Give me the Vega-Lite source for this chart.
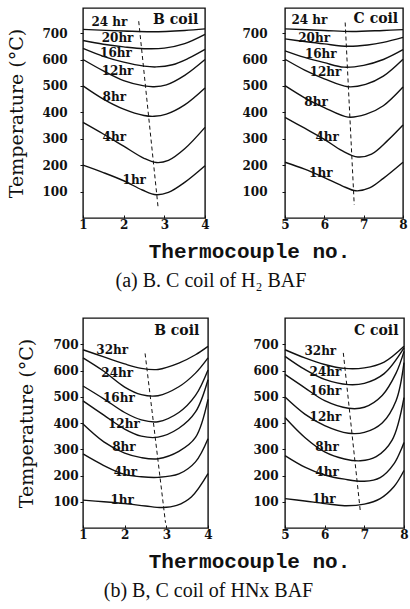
{
  "$schema": "https://vega.github.io/schema/vega-lite/v6.json",
  "padding": {"left": 7, "top": 7, "right": 2, "bottom": 4},
  "background": "white",
  "config": {
    "view": {"stroke": "#111", "strokeWidth": 1.4},
    "axis": {"grid": false, "domain": false, "labelFont": "DejaVu Serif", "labelFontWeight": "bold", "labelFontSize": 12, "labelColor": "#111", "tickColor": "#111", "tickWidth": 1, "labelFlush": false, "titleColor": "#111"},
    "axisY": {"tickSize": 3, "titleFont": "DejaVu Serif", "titleFontSize": 19, "titleFontWeight": "normal"},
    "axisX": {"tickSize": -3, "labelPadding": 4, "titleFont": "Liberation Mono", "titleFontSize": 21, "titleFontWeight": "bold"},
    "title": {"font": "Liberation Serif", "fontSize": 20, "fontWeight": "normal", "color": "#111"}
  },
  "datasets": {
    "curves": [
      {"p":"A","hr":"1hr","x":1,"t":200},{"p":"A","hr":"1hr","x":1.5,"t":172},{"p":"A","hr":"1hr","x":2,"t":141},{"p":"A","hr":"1hr","x":2.46,"t":106},{"p":"A","hr":"1hr","x":2.8,"t":88},{"p":"A","hr":"1hr","x":3.1,"t":97},{"p":"A","hr":"1hr","x":3.5,"t":135},{"p":"A","hr":"1hr","x":4,"t":198},
      {"p":"A","hr":"4hr","x":1,"t":362},{"p":"A","hr":"4hr","x":1.5,"t":318},{"p":"A","hr":"4hr","x":2,"t":272},{"p":"A","hr":"4hr","x":2.5,"t":226},{"p":"A","hr":"4hr","x":2.8,"t":210},{"p":"A","hr":"4hr","x":3.1,"t":218},{"p":"A","hr":"4hr","x":3.5,"t":262},{"p":"A","hr":"4hr","x":4,"t":343},
      {"p":"A","hr":"8hr","x":1,"t":500},{"p":"A","hr":"8hr","x":1.5,"t":450},{"p":"A","hr":"8hr","x":2,"t":412},{"p":"A","hr":"8hr","x":2.5,"t":388},{"p":"A","hr":"8hr","x":2.75,"t":385},{"p":"A","hr":"8hr","x":3.05,"t":393},{"p":"A","hr":"8hr","x":3.5,"t":428},{"p":"A","hr":"8hr","x":4,"t":492},
      {"p":"A","hr":"12hr","x":1,"t":600},{"p":"A","hr":"12hr","x":1.5,"t":557},{"p":"A","hr":"12hr","x":2,"t":520},{"p":"A","hr":"12hr","x":2.5,"t":500},{"p":"A","hr":"12hr","x":2.75,"t":497},{"p":"A","hr":"12hr","x":3.05,"t":504},{"p":"A","hr":"12hr","x":3.5,"t":540},{"p":"A","hr":"12hr","x":4,"t":600},
      {"p":"A","hr":"16hr","x":1,"t":642},{"p":"A","hr":"16hr","x":1.5,"t":612},{"p":"A","hr":"16hr","x":2,"t":590},{"p":"A","hr":"16hr","x":2.5,"t":575},{"p":"A","hr":"16hr","x":2.8,"t":572},{"p":"A","hr":"16hr","x":3.2,"t":580},{"p":"A","hr":"16hr","x":3.6,"t":605},{"p":"A","hr":"16hr","x":4,"t":638},
      {"p":"A","hr":"20hr","x":1,"t":672},{"p":"A","hr":"20hr","x":1.5,"t":658},{"p":"A","hr":"20hr","x":2,"t":648},{"p":"A","hr":"20hr","x":2.5,"t":641},{"p":"A","hr":"20hr","x":3,"t":643},{"p":"A","hr":"20hr","x":3.5,"t":660},{"p":"A","hr":"20hr","x":4,"t":695},
      {"p":"A","hr":"24hr","x":1,"t":714},{"p":"A","hr":"24hr","x":2,"t":708},{"p":"A","hr":"24hr","x":2.7,"t":705},{"p":"A","hr":"24hr","x":3.5,"t":710},{"p":"A","hr":"24hr","x":4,"t":716},

      {"p":"B","hr":"1hr","x":5,"t":211},{"p":"B","hr":"1hr","x":5.5,"t":185},{"p":"B","hr":"1hr","x":6,"t":153},{"p":"B","hr":"1hr","x":6.45,"t":122},{"p":"B","hr":"1hr","x":6.8,"t":103},{"p":"B","hr":"1hr","x":7.15,"t":114},{"p":"B","hr":"1hr","x":7.5,"t":150},{"p":"B","hr":"1hr","x":8,"t":211},
      {"p":"B","hr":"4hr","x":5,"t":381},{"p":"B","hr":"4hr","x":5.5,"t":340},{"p":"B","hr":"4hr","x":6,"t":298},{"p":"B","hr":"4hr","x":6.45,"t":255},{"p":"B","hr":"4hr","x":6.85,"t":231},{"p":"B","hr":"4hr","x":7.2,"t":242},{"p":"B","hr":"4hr","x":7.6,"t":292},{"p":"B","hr":"4hr","x":8,"t":352},
      {"p":"B","hr":"8hr","x":5,"t":501},{"p":"B","hr":"8hr","x":5.5,"t":455},{"p":"B","hr":"8hr","x":6,"t":418},{"p":"B","hr":"8hr","x":6.6,"t":382},{"p":"B","hr":"8hr","x":7.05,"t":392},{"p":"B","hr":"8hr","x":7.5,"t":425},{"p":"B","hr":"8hr","x":8,"t":496},
      {"p":"B","hr":"12hr","x":5,"t":601},{"p":"B","hr":"12hr","x":5.5,"t":560},{"p":"B","hr":"12hr","x":6,"t":527},{"p":"B","hr":"12hr","x":6.6,"t":497},{"p":"B","hr":"12hr","x":7.05,"t":506},{"p":"B","hr":"12hr","x":7.5,"t":537},{"p":"B","hr":"12hr","x":8,"t":601},
      {"p":"B","hr":"16hr","x":5,"t":633},{"p":"B","hr":"16hr","x":5.5,"t":608},{"p":"B","hr":"16hr","x":6,"t":588},{"p":"B","hr":"16hr","x":6.5,"t":571},{"p":"B","hr":"16hr","x":7,"t":578},{"p":"B","hr":"16hr","x":7.5,"t":600},{"p":"B","hr":"16hr","x":8,"t":637},
      {"p":"B","hr":"20hr","x":5,"t":678},{"p":"B","hr":"20hr","x":5.5,"t":668},{"p":"B","hr":"20hr","x":6,"t":659},{"p":"B","hr":"20hr","x":6.6,"t":650},{"p":"B","hr":"20hr","x":7.1,"t":655},{"p":"B","hr":"20hr","x":7.5,"t":665},{"p":"B","hr":"20hr","x":8,"t":684},
      {"p":"B","hr":"24hr","x":5,"t":716},{"p":"B","hr":"24hr","x":6,"t":710},{"p":"B","hr":"24hr","x":6.7,"t":706},{"p":"B","hr":"24hr","x":7.5,"t":710},{"p":"B","hr":"24hr","x":8,"t":713},

      {"p":"C","hr":"1hr","x":1,"t":106},{"p":"C","hr":"1hr","x":1.5,"t":100},{"p":"C","hr":"1hr","x":2,"t":93},{"p":"C","hr":"1hr","x":2.5,"t":84},{"p":"C","hr":"1hr","x":2.9,"t":78},{"p":"C","hr":"1hr","x":3.25,"t":86},{"p":"C","hr":"1hr","x":3.6,"t":118},{"p":"C","hr":"1hr","x":4,"t":207},
      {"p":"C","hr":"4hr","x":1,"t":282},{"p":"C","hr":"4hr","x":1.5,"t":238},{"p":"C","hr":"4hr","x":2,"t":204},{"p":"C","hr":"4hr","x":2.4,"t":195},{"p":"C","hr":"4hr","x":2.8,"t":193},{"p":"C","hr":"4hr","x":3.3,"t":206},{"p":"C","hr":"4hr","x":3.7,"t":252},{"p":"C","hr":"4hr","x":4,"t":340},
      {"p":"C","hr":"8hr","x":1,"t":396},{"p":"C","hr":"8hr","x":1.5,"t":328},{"p":"C","hr":"8hr","x":2,"t":285},{"p":"C","hr":"8hr","x":2.4,"t":268},{"p":"C","hr":"8hr","x":2.8,"t":264},{"p":"C","hr":"8hr","x":3.3,"t":292},{"p":"C","hr":"8hr","x":3.7,"t":345},{"p":"C","hr":"8hr","x":4,"t":490},
      {"p":"C","hr":"12hr","x":1,"t":484},{"p":"C","hr":"12hr","x":1.5,"t":430},{"p":"C","hr":"12hr","x":2,"t":377},{"p":"C","hr":"12hr","x":2.4,"t":350},{"p":"C","hr":"12hr","x":2.8,"t":346},{"p":"C","hr":"12hr","x":3.3,"t":380},{"p":"C","hr":"12hr","x":3.7,"t":442},{"p":"C","hr":"12hr","x":4,"t":565},
      {"p":"C","hr":"16hr","x":1,"t":541},{"p":"C","hr":"16hr","x":1.5,"t":492},{"p":"C","hr":"16hr","x":2,"t":440},{"p":"C","hr":"16hr","x":2.4,"t":412},{"p":"C","hr":"16hr","x":2.8,"t":405},{"p":"C","hr":"16hr","x":3.3,"t":440},{"p":"C","hr":"16hr","x":3.7,"t":505},{"p":"C","hr":"16hr","x":4,"t":602},
      {"p":"C","hr":"24hr","x":1,"t":648},{"p":"C","hr":"24hr","x":1.5,"t":597},{"p":"C","hr":"24hr","x":2,"t":537},{"p":"C","hr":"24hr","x":2.4,"t":508},{"p":"C","hr":"24hr","x":2.8,"t":504},{"p":"C","hr":"24hr","x":3.3,"t":538},{"p":"C","hr":"24hr","x":3.7,"t":590},{"p":"C","hr":"24hr","x":4,"t":648},
      {"p":"C","hr":"32hr","x":1,"t":679},{"p":"C","hr":"32hr","x":1.5,"t":652},{"p":"C","hr":"32hr","x":2,"t":625},{"p":"C","hr":"32hr","x":2.4,"t":608},{"p":"C","hr":"32hr","x":2.8,"t":604},{"p":"C","hr":"32hr","x":3.3,"t":628},{"p":"C","hr":"32hr","x":3.7,"t":660},{"p":"C","hr":"32hr","x":4,"t":692},

      {"p":"D","hr":"1hr","x":5,"t":112},{"p":"D","hr":"1hr","x":5.5,"t":103},{"p":"D","hr":"1hr","x":6,"t":93},{"p":"D","hr":"1hr","x":6.5,"t":85},{"p":"D","hr":"1hr","x":7,"t":91},{"p":"D","hr":"1hr","x":7.4,"t":112},{"p":"D","hr":"1hr","x":7.75,"t":158},{"p":"D","hr":"1hr","x":8,"t":219},
      {"p":"D","hr":"4hr","x":5,"t":276},{"p":"D","hr":"4hr","x":5.5,"t":232},{"p":"D","hr":"4hr","x":6,"t":202},{"p":"D","hr":"4hr","x":6.5,"t":186},{"p":"D","hr":"4hr","x":7,"t":178},{"p":"D","hr":"4hr","x":7.4,"t":192},{"p":"D","hr":"4hr","x":7.75,"t":245},{"p":"D","hr":"4hr","x":8,"t":326},
      {"p":"D","hr":"8hr","x":5,"t":421},{"p":"D","hr":"8hr","x":5.5,"t":345},{"p":"D","hr":"8hr","x":6,"t":290},{"p":"D","hr":"8hr","x":6.5,"t":263},{"p":"D","hr":"8hr","x":6.9,"t":256},{"p":"D","hr":"8hr","x":7.3,"t":272},{"p":"D","hr":"8hr","x":7.7,"t":335},{"p":"D","hr":"8hr","x":8,"t":497},
      {"p":"D","hr":"12hr","x":5,"t":499},{"p":"D","hr":"12hr","x":5.5,"t":434},{"p":"D","hr":"12hr","x":6,"t":390},{"p":"D","hr":"12hr","x":6.6,"t":361},{"p":"D","hr":"12hr","x":7,"t":364},{"p":"D","hr":"12hr","x":7.45,"t":400},{"p":"D","hr":"12hr","x":7.8,"t":485},{"p":"D","hr":"12hr","x":8,"t":630},
      {"p":"D","hr":"16hr","x":5,"t":585},{"p":"D","hr":"16hr","x":5.5,"t":534},{"p":"D","hr":"16hr","x":6,"t":485},{"p":"D","hr":"16hr","x":6.6,"t":456},{"p":"D","hr":"16hr","x":7,"t":460},{"p":"D","hr":"16hr","x":7.45,"t":505},{"p":"D","hr":"16hr","x":7.8,"t":590},{"p":"D","hr":"16hr","x":8,"t":673},
      {"p":"D","hr":"24hr","x":5,"t":654},{"p":"D","hr":"24hr","x":5.5,"t":604},{"p":"D","hr":"24hr","x":6,"t":566},{"p":"D","hr":"24hr","x":6.6,"t":546},{"p":"D","hr":"24hr","x":7,"t":551},{"p":"D","hr":"24hr","x":7.5,"t":588},{"p":"D","hr":"24hr","x":8,"t":686},
      {"p":"D","hr":"32hr","x":5,"t":679},{"p":"D","hr":"32hr","x":5.5,"t":648},{"p":"D","hr":"32hr","x":6,"t":623},{"p":"D","hr":"32hr","x":6.5,"t":608},{"p":"D","hr":"32hr","x":7,"t":610},{"p":"D","hr":"32hr","x":7.5,"t":632},{"p":"D","hr":"32hr","x":8,"t":692}
    ],
    "dash": [
      {"p":"A","x":2.37,"t":745},{"p":"A","x":2.85,"t":35},
      {"p":"B","x":6.53,"t":740},{"p":"B","x":6.76,"t":50},
      {"p":"C","x":2.49,"t":665},{"p":"C","x":2.98,"t":20},
      {"p":"D","x":6.47,"t":667},{"p":"D","x":6.9,"t":62}
    ],
    "labels": [
      {"p":"A","label":"24 hr","x":1.65,"t":742},{"p":"A","label":"20hr","x":1.85,"t":680},{"p":"A","label":"16hr","x":1.81,"t":626},{"p":"A","label":"12hr","x":1.85,"t":557},{"p":"A","label":"8hr","x":1.77,"t":459},{"p":"A","label":"4hr","x":1.77,"t":305},{"p":"A","label":"1hr","x":2.26,"t":142},
      {"p":"B","label":"24 hr","x":5.62,"t":748},{"p":"B","label":"20hr","x":5.74,"t":680},{"p":"B","label":"16hr","x":5.91,"t":620},{"p":"B","label":"12hr","x":6.03,"t":552},{"p":"B","label":"8hr","x":5.79,"t":441},{"p":"B","label":"4hr","x":6.07,"t":307},{"p":"B","label":"1hr","x":5.91,"t":169},
      {"p":"C","label":"32hr","x":1.7,"t":679},{"p":"C","label":"24hr","x":1.82,"t":591},{"p":"C","label":"16hr","x":1.86,"t":497},{"p":"C","label":"12hr","x":1.98,"t":396},{"p":"C","label":"8hr","x":1.98,"t":307},{"p":"C","label":"4hr","x":2.02,"t":213},{"p":"C","label":"1hr","x":1.94,"t":108},
      {"p":"D","label":"32hr","x":5.89,"t":675},{"p":"D","label":"24hr","x":6.02,"t":594},{"p":"D","label":"16hr","x":6.02,"t":522},{"p":"D","label":"12hr","x":6.02,"t":423},{"p":"D","label":"8hr","x":6.06,"t":310},{"p":"D","label":"4hr","x":6.06,"t":213},{"p":"D","label":"1hr","x":5.98,"t":112}
    ],
    "coils": [
      {"p":"A","label":"B  coil","x":3.28,"t":749},
      {"p":"B","label":"C  coil","x":7.31,"t":754},
      {"p":"C","label":"B  coil","x":3.25,"t":751},
      {"p":"D","label":"C  coil","x":7.3,"t":751}
    ]
  },
  "columns": 2,
  "bounds": "flush",
  "spacing": {"row": 100, "column": 77},
  "concat": [
    {
      "width": 122, "height": 210,
      "title": {"text": "(a)  B. C coil of H₂ BAF", "orient": "bottom", "anchor": "middle", "dx": 67, "offset": 10},
      "encoding": {
        "x": {"field": "x", "type": "quantitative", "scale": {"domain": [1, 4], "nice": false, "zero": false}, "axis": {"values": [1, 2, 3, 4], "title": "Thermocouple no.", "titleX": 166, "titleY": 39, "titleAlign": "center", "titleBaseline": "alphabetic"}},
        "y": {"field": "t", "type": "quantitative", "scale": {"domain": [0, 795], "nice": false, "zero": false}, "axis": {"values": [100, 200, 300, 400, 500, 600, 700], "title": "Temperature (°C)", "labelPadding": 13, "titlePadding": 15}}
      },
      "layer": [
        {"data": {"name": "curves"}, "transform": [{"filter": "datum.p == 'A'"}], "mark": {"type": "line", "interpolate": "catmull-rom", "color": "#111", "strokeWidth": 1.4}, "encoding": {"detail": {"field": "hr"}}},
        {"data": {"name": "dash"}, "transform": [{"filter": "datum.p == 'A'"}], "mark": {"type": "line", "color": "#111", "strokeWidth": 1, "strokeDash": [4, 3]}, "encoding": {}},
        {"data": {"name": "labels"}, "transform": [{"filter": "datum.p == 'A'"}], "mark": {"type": "text", "font": "DejaVu Serif", "fontWeight": "bold", "fontSize": 12, "color": "#111"}, "encoding": {"text": {"field": "label"}}},
        {"data": {"name": "coils"}, "transform": [{"filter": "datum.p == 'A'"}], "mark": {"type": "text", "font": "DejaVu Serif", "fontWeight": "bold", "fontSize": 14, "color": "#111"}, "encoding": {"text": {"field": "label"}}}
      ]
    },
    {
      "width": 118, "height": 210,
      "encoding": {
        "x": {"field": "x", "type": "quantitative", "scale": {"domain": [5, 8], "nice": false, "zero": false}, "axis": {"values": [5, 6, 7, 8], "title": null}},
        "y": {"field": "t", "type": "quantitative", "scale": {"domain": [0, 795], "nice": false, "zero": false}, "axis": {"values": [100, 200, 300, 400, 500, 600, 700], "title": null, "labelPadding": 15}}
      },
      "layer": [
        {"data": {"name": "curves"}, "transform": [{"filter": "datum.p == 'B'"}], "mark": {"type": "line", "interpolate": "catmull-rom", "color": "#111", "strokeWidth": 1.4}, "encoding": {"detail": {"field": "hr"}}},
        {"data": {"name": "dash"}, "transform": [{"filter": "datum.p == 'B'"}], "mark": {"type": "line", "color": "#111", "strokeWidth": 1, "strokeDash": [4, 3]}, "encoding": {}},
        {"data": {"name": "labels"}, "transform": [{"filter": "datum.p == 'B'"}], "mark": {"type": "text", "font": "DejaVu Serif", "fontWeight": "bold", "fontSize": 12, "color": "#111"}, "encoding": {"text": {"field": "label"}}},
        {"data": {"name": "coils"}, "transform": [{"filter": "datum.p == 'B'"}], "mark": {"type": "text", "font": "DejaVu Serif", "fontWeight": "bold", "fontSize": 14, "color": "#111"}, "encoding": {"text": {"field": "label"}}}
      ]
    },
    {
      "width": 125, "height": 210,
      "title": {"text": "(b)  B, C coil of HNx BAF", "orient": "bottom", "anchor": "middle", "dx": 63, "offset": 10},
      "encoding": {
        "x": {"field": "x", "type": "quantitative", "scale": {"domain": [1, 4], "nice": false, "zero": false}, "axis": {"values": [1, 2, 3, 4], "title": "Thermocouple no.", "titleX": 166, "titleY": 39, "titleAlign": "center", "titleBaseline": "alphabetic"}},
        "y": {"field": "t", "type": "quantitative", "scale": {"domain": [0, 800], "nice": false, "zero": false}, "axis": {"values": [100, 200, 300, 400, 500, 600, 700], "title": "Temperature (°C)", "labelPadding": 2, "titlePadding": 16}}
      },
      "layer": [
        {"data": {"name": "curves"}, "transform": [{"filter": "datum.p == 'C'"}], "mark": {"type": "line", "interpolate": "catmull-rom", "color": "#111", "strokeWidth": 1.4}, "encoding": {"detail": {"field": "hr"}}},
        {"data": {"name": "dash"}, "transform": [{"filter": "datum.p == 'C'"}], "mark": {"type": "line", "color": "#111", "strokeWidth": 1, "strokeDash": [4, 3]}, "encoding": {}},
        {"data": {"name": "labels"}, "transform": [{"filter": "datum.p == 'C'"}], "mark": {"type": "text", "font": "DejaVu Serif", "fontWeight": "bold", "fontSize": 12, "color": "#111"}, "encoding": {"text": {"field": "label"}}},
        {"data": {"name": "coils"}, "transform": [{"filter": "datum.p == 'C'"}], "mark": {"type": "text", "font": "DejaVu Serif", "fontWeight": "bold", "fontSize": 14, "color": "#111"}, "encoding": {"text": {"field": "label"}}}
      ]
    },
    {
      "width": 119, "height": 210,
      "encoding": {
        "x": {"field": "x", "type": "quantitative", "scale": {"domain": [5, 8], "nice": false, "zero": false}, "axis": {"values": [5, 6, 7, 8], "title": null}},
        "y": {"field": "t", "type": "quantitative", "scale": {"domain": [0, 800], "nice": false, "zero": false}, "axis": {"values": [100, 200, 300, 400, 500, 600, 700], "title": null, "labelPadding": 4}}
      },
      "layer": [
        {"data": {"name": "curves"}, "transform": [{"filter": "datum.p == 'D'"}], "mark": {"type": "line", "interpolate": "catmull-rom", "color": "#111", "strokeWidth": 1.4}, "encoding": {"detail": {"field": "hr"}}},
        {"data": {"name": "dash"}, "transform": [{"filter": "datum.p == 'D'"}], "mark": {"type": "line", "color": "#111", "strokeWidth": 1, "strokeDash": [4, 3]}, "encoding": {}},
        {"data": {"name": "labels"}, "transform": [{"filter": "datum.p == 'D'"}], "mark": {"type": "text", "font": "DejaVu Serif", "fontWeight": "bold", "fontSize": 12, "color": "#111"}, "encoding": {"text": {"field": "label"}}},
        {"data": {"name": "coils"}, "transform": [{"filter": "datum.p == 'D'"}], "mark": {"type": "text", "font": "DejaVu Serif", "fontWeight": "bold", "fontSize": 14, "color": "#111"}, "encoding": {"text": {"field": "label"}}}
      ]
    }
  ]
}
